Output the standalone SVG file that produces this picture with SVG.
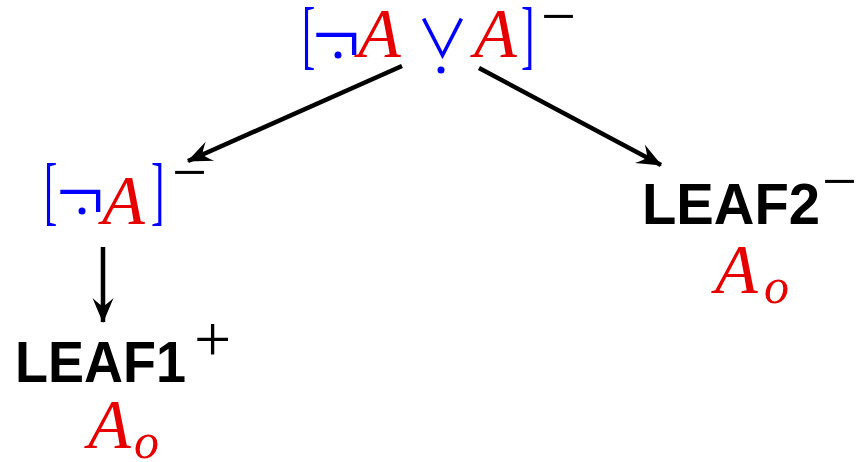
<svg xmlns="http://www.w3.org/2000/svg" width="857" height="462" viewBox="0 0 857 462">
<defs>
<style>
.b{fill:#0000ff;font-family:"Liberation Serif",serif;}
.cj{fill:#0000ff;font-family:"Noto Sans CJK JP","DejaVu Sans",sans-serif;}
.r{fill:#e60000;font-family:"Liberation Serif",serif;font-style:italic;}
.k{fill:#000;font-family:"Liberation Serif",serif;}
.leaf{fill:#000;font-family:"Liberation Sans",Arial,sans-serif;font-weight:bold;font-size:57px;}
.edge{stroke:#000;stroke-width:4.5;fill:none;marker-end:url(#ah);}
</style>
<marker id="ah" markerUnits="userSpaceOnUse" viewBox="-26 -12 28 24" refX="0" refY="0" markerWidth="28" markerHeight="24" orient="auto">
<path d="M1,0 L-24,-10.5 Q-17,-3 -16,0 Q-17,3 -24,10.5 Z" fill="#000"/>
</marker>
</defs>
<g id="connectors">
<line class="edge" x1="402" y1="66" x2="188" y2="161"/>
<line class="edge" x1="479" y1="68" x2="661" y2="165"/>
<line class="edge" x1="103" y1="247" x2="103" y2="322"/>
</g>
<g id="root">
<text class="b" transform="translate(302,60) scale(1,1.9)" font-size="40">[</text>
<text class="b" x="312" y="63.5" font-size="86">¬</text>
<circle cx="338" cy="55" r="3.5" fill="#0000ff"/>
<text class="r" x="358" y="57" font-size="70">A</text>
<text class="cj" x="416" y="58" font-size="53">∨</text>
<circle cx="441" cy="70" r="3.5" fill="#0000ff"/>
<text class="r" x="474" y="57" font-size="70">A</text>
<text class="b" transform="translate(521,60) scale(1,1.9)" font-size="40">]</text>
<text class="k" x="541" y="37" font-size="62">−</text>
</g>
<g id="neg">
<text class="b" transform="translate(44,216) scale(1,1.9)" font-size="40">[</text>
<text class="b" x="56" y="220.5" font-size="86">¬</text>
<circle cx="82" cy="211" r="3.5" fill="#0000ff"/>
<text class="r" x="102" y="224" font-size="70">A</text>
<text class="b" transform="translate(151,216) scale(1,1.9)" font-size="40">]</text>
<text class="k" x="172" y="193" font-size="62">−</text>
</g>
<g id="leaf1">
<text class="leaf" x="15" y="382" textLength="171" lengthAdjust="spacingAndGlyphs">LEAF1</text>
<text class="k" x="194" y="361" font-size="66">+</text>
<text class="r" x="88" y="448" font-size="70">A</text>
<text class="r" x="134" y="458" font-size="50">o</text>
</g>
<g id="leaf2">
<text class="leaf" x="642" y="224" textLength="178" lengthAdjust="spacingAndGlyphs">LEAF2</text>
<text class="k" x="822" y="202" font-size="62">−</text>
<text class="r" x="715" y="293" font-size="70">A</text>
<text class="r" x="764" y="303" font-size="50">o</text>
</g>
</svg>
